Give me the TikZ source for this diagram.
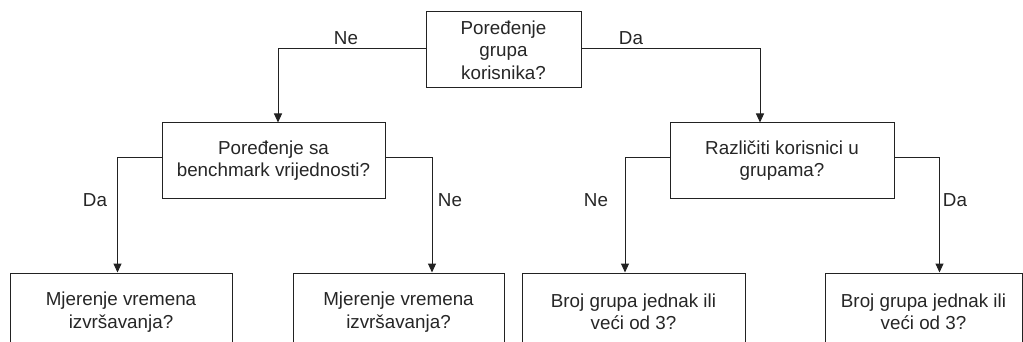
\documentclass[tikz,border=0pt]{standalone}
\usepackage{fontspec}
\setmainfont{Liberation Sans}
\usetikzlibrary{arrows.meta}
\definecolor{ink}{HTML}{222222}
\definecolor{txt}{HTML}{262626}
\begin{document}
\begin{tikzpicture}[x=1pt,y=-1pt,
  box/.style={draw=ink,line width=1pt,rectangle,inner sep=0pt,
    font=\fontsize{18.8}{22.5}\selectfont,text=txt,align=center},
  lbl/.style={font=\fontsize{18.8}{22.5}\selectfont,text=txt,inner sep=0pt},
  arr/.style={draw=ink,line width=1pt,-{Triangle[length=9pt,width=8pt]}}]
\useasboundingbox (0,0) rectangle (1023,342);
\begin{scope}
\clip (0,0) rectangle (1023,342);
% decision boxes
\node[box,minimum width=155pt,minimum height=76pt] (top) at (503.5,50) {Poređenje\\grupa\\korisnika?};
\node[box,minimum width=223pt,minimum height=75pt] (bench) at (273.5,160.5) {Poređenje sa\\benchmark vrijednosti?};
\node[box,minimum width=224pt,minimum height=75pt] (users) at (782,160.5) {Različiti korisnici u\\grupama?};
% bottom row
\node[box,minimum width=222pt,minimum height=78pt] (timeA) at (121,312) {Mjerenje vremena\\izvršavanja?};
\node[box,minimum width=211pt,minimum height=78pt] (timeB) at (398.5,312) {Mjerenje vremena\\izvršavanja?};
\node[box,minimum width=223pt,minimum height=78pt] (grpA) at (633.5,312) {Broj grupa jednak ili\\veći od 3?};
\node[box,minimum width=197pt,minimum height=78pt] (grpB) at (923.5,312) {Broj grupa jednak ili\\veći od 3?};
% connectors
\draw[arr] ([yshift=1pt]top.west) -| ([xshift=4.5pt]bench.north);
\draw[arr] ([yshift=1pt]top.east) -| ([xshift=-22pt]users.north);
\draw[arr] ([yshift=2.5pt]bench.west) -| ([xshift=-3.5pt]timeA.north);
\draw[arr] ([yshift=2.5pt]bench.east) -| ([xshift=33.5pt]timeB.north);
\draw[arr] ([yshift=2.5pt]users.west) -| ([xshift=-8.5pt]grpA.north);
\draw[arr] ([yshift=2.5pt]users.east) -| ([xshift=16pt]grpB.north);
\end{scope}
% branch labels
\node[lbl] (l1) at (346,38) {Ne};
\node[lbl] (l2) at (631,38) {Da};
\node[lbl] (l3) at (95,200) {Da};
\node[lbl] (l4) at (450,200) {Ne};
\node[lbl] (l5) at (596,200) {Ne};
\node[lbl] (l6) at (955,200) {Da};
\end{tikzpicture}
\end{document}
